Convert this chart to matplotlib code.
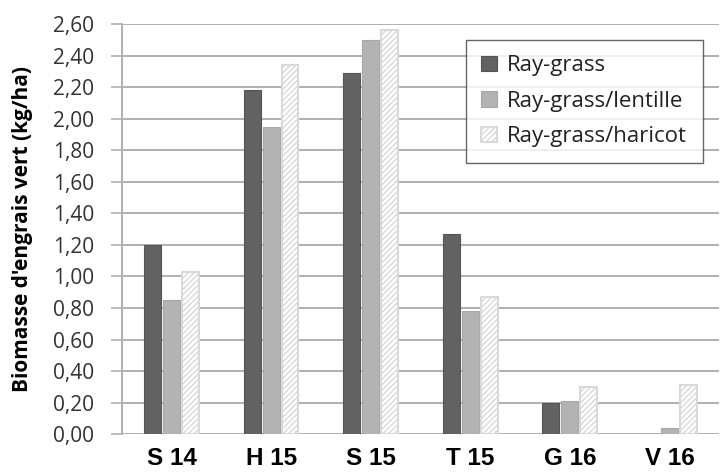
import numpy as np
import matplotlib.pyplot as plt
from matplotlib.ticker import FuncFormatter

# biomasse d'engrais vert par saison et par traitement
saisons = ["S 14", "H 15", "S 15", "T 15", "G 16", "V 16"]
ray_grass = [1.20, 2.18, 2.29, 1.27, 0.20, 0.0]
rg_lentille = [0.85, 1.95, 2.50, 0.78, 0.21, 0.04]
rg_haricot = [1.03, 2.34, 2.56, 0.87, 0.30, 0.31]

plt.rcParams["hatch.color"] = "#d4d4d4"
plt.rcParams["hatch.linewidth"] = 1.0

fig = plt.figure(figsize=(7.2, 4.74), dpi=100)
ax = fig.add_axes([0.169, 0.084, 0.830, 0.865])

x = np.arange(len(saisons))
w = 0.17
ax.bar(x - 0.19, ray_grass, w, color="#626262", edgecolor="#555555", lw=0.8,
       label="Ray-grass", zorder=3)
ax.bar(x, rg_lentille, w, color="#b3b3b3", edgecolor="#a8a8a8", lw=0.8,
       label="Ray-grass/lentille", zorder=3)
ax.bar(x + 0.19, rg_haricot, w, color="white", edgecolor="#d9d9d9", lw=1.5,
       hatch="//////", label="Ray-grass/haricot", zorder=3)

ax.set_xlim(-0.5, len(saisons) - 0.5)
ax.set_ylim(0, 2.6)
ax.set_yticks(np.arange(0, 2.61, 0.2))
ax.yaxis.set_major_formatter(FuncFormatter(lambda v, p: f"{v:.2f}".replace(".", ",")))
ax.yaxis.grid(True, color="#b0b0b0", lw=1.4, zorder=0)
ax.set_axisbelow(True)

for s in ["top", "right", "bottom"]:
    ax.spines[s].set_visible(False)
ax.spines["left"].set_color("#b0b0b0")
ax.spines["left"].set_linewidth(1.4)

ax.tick_params(axis="y", length=8, width=1.2, color="#b0b0b0", pad=12,
               labelsize=15, labelcolor="#333333")
ax.tick_params(axis="x", length=0, pad=9)
for t in ax.get_yticklabels():
    t.set_family("Open Sans")

ax.set_xticks(x)
ax.set_xticklabels(saisons, family="Liberation Sans", fontweight="bold",
                   fontsize=17.5, color="black")

ax.set_ylabel("Biomasse d'engrais vert (kg/ha)", family="Open Sans",
              fontweight="bold", fontsize=15, labelpad=14)

leg = ax.legend(loc="upper right", bbox_to_anchor=(0.972, 0.962),
                prop={"family": "Open Sans", "size": 16}, frameon=True,
                fancybox=False, edgecolor="#404040", handlelength=0.7,
                handleheight=0.7, handletextpad=0.45, labelspacing=0.65,
                borderpad=0.7, borderaxespad=0)
leg.get_frame().set_linewidth(1.0)
for t in leg.get_texts():
    t.set_color("#222222")

fig.savefig("out.png", dpi=100)
